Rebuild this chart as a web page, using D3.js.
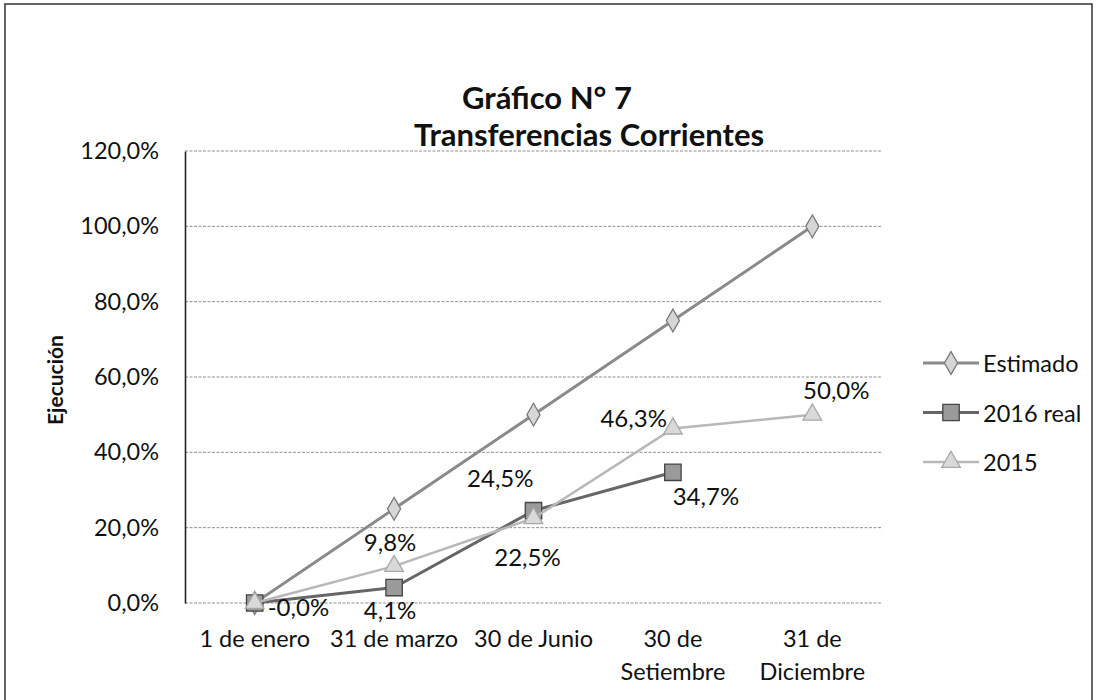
<!DOCTYPE html>
<html><head><meta charset="utf-8">
<script src="https://cdn.jsdelivr.net/npm/d3@7"></script>
<style>body{margin:0;background:#fff}svg{display:block}</style>
</head><body><svg id="c" width="1097" height="700"></svg>
<script>
// ---- data ----
const categories = ["1 de enero", "31 de marzo", "30 de Junio", "30 de\nSetiembre", "31 de\nDiciembre"];
const seriesNames = ["Estimado", "2016 real", "2015"];
const estimado = [0, 25, 50, 75, 100];
const real2016 = [0, 4.1, 24.5, 34.7];
const s2015 = [0, 9.8, 22.5, 46.3, 50.0];
const real2016Labels = ["-0,0%", "4,1%", "24,5%", "34,7%"];
const s2015Labels = [null, "9,8%", "22,5%", "46,3%", "50,0%"];
const yTicks = [0, 20, 40, 60, 80, 100, 120];
const titleLines = ["Gráfico N° 7", "Transferencias Corrientes"];
const yTitle = "Ejecución";

// ---- layout ----
const svg = d3.select("#c");
const font = "Lato, 'Open Sans', sans-serif";
const plot = {left: 185, right: 882, top: 151, bottom: 603};
const x = d3.scaleBand().domain(d3.range(categories.length)).range([plot.left, plot.right]);
const xc = i => x(i) + x.bandwidth() / 2;
const y = d3.scaleLinear().domain([0, 120]).range([plot.bottom, plot.top]);
const fmt = v => v.toFixed(1).replace(".", ",") + "%";

// frame
svg.append("rect").attr("x", 5).attr("y", 4).attr("width", 1087).attr("height", 710)
  .attr("fill", "none").attr("stroke", "#333").attr("stroke-width", 1.5);

// title
svg.append("text").attr("x", 547).attr("y", 109).attr("text-anchor", "middle")
  .attr("font-family", font).attr("font-weight", "bold").attr("font-size", 31).attr("fill", "#111")
  .text(titleLines[0]);
svg.append("text").attr("x", 589).attr("y", 146).attr("text-anchor", "middle")
  .attr("font-family", font).attr("font-weight", "bold").attr("font-size", 31).attr("fill", "#111")
  .text(titleLines[1]);

// gridlines
svg.append("g").selectAll("line").data(yTicks).join("line")
  .attr("x1", plot.left).attr("x2", plot.right)
  .attr("y1", d => y(d)).attr("y2", d => y(d))
  .attr("stroke", "#8f8f8f").attr("stroke-width", 1).attr("stroke-dasharray", "3,1.5");

// y axis
const yAxis = d3.axisLeft(y).tickValues(yTicks).tickFormat(fmt).tickSize(0).tickPadding(26);
const gy = svg.append("g").attr("transform", `translate(${plot.left},0)`).call(yAxis);
gy.select(".domain").attr("stroke", "#222").attr("stroke-width", 1.6);
gy.selectAll("text").attr("font-family", font).attr("font-size", 23.5).attr("fill", "#111");

svg.append("text").attr("transform", "translate(63,380) rotate(-90)").attr("text-anchor", "middle")
  .attr("font-family", font).attr("font-weight", "bold").attr("font-size", 21).attr("fill", "#111")
  .text(yTitle);

// x axis labels
const xAxis = d3.axisBottom(x).tickSize(0).tickFormat("");
const gx = svg.append("g").attr("transform", `translate(0,${plot.bottom})`).call(xAxis);
gx.select(".domain").remove();
gx.selectAll(".tick").each(function(d) {
  const lines = categories[d].split("\n");
  const t = d3.select(this).append("text").attr("fill", "#111").attr("font-family", font)
    .attr("font-size", 23.5).attr("text-anchor", "middle");
  lines.forEach((ln, k) => t.append("tspan").attr("x", 0).attr("y", 44 + k * 33).text(ln));
});

// series styles
const styles = [
  {data: estimado, stroke: "#8a8a8a", width: 3, marker: "diamond", fill: "#d6d6d6", mstroke: "#7a7a7a"},
  {data: real2016, stroke: "#666", width: 3, marker: "square", fill: "#9a9a9a", mstroke: "#444"},
  {data: s2015, stroke: "#b8b8b8", width: 2.5, marker: "triangle", fill: "#d9d9d9", mstroke: "#a8a8a8"}
];
const symType = {diamond: d3.symbolDiamond, square: d3.symbolSquare, triangle: d3.symbolTriangle};
const symSize = {diamond: 150, square: 270, triangle: 150};
const line = d3.line().x((d, i) => xc(i)).y(d => y(d));

styles.forEach(s => {
  const g = svg.append("g");
  g.append("path").datum(s.data).attr("d", line).attr("fill", "none")
    .attr("stroke", s.stroke).attr("stroke-width", s.width).attr("stroke-linejoin", "round");
  g.selectAll("path.m").data(s.data).join("path").attr("class", "m")
    .attr("transform", (d, i) => `translate(${xc(i)},${y(d)})`)
    .attr("d", d3.symbol().type(symType[s.marker]).size(symSize[s.marker]))
    .attr("fill", s.fill).attr("stroke", s.mstroke).attr("stroke-width", 1.3);
});

// data labels (positions relative to points)
const labelPos2016 = [{dx: 13, dy: 3, a: "start"}, {dx: -4, dy: 22, a: "middle"}, {dx: 0, dy: -33, a: "end"}, {dx: 33, dy: 23, a: "middle"}];
const labelPos2015 = [null, {dx: -4, dy: -25, a: "middle"}, {dx: -6, dy: 38, a: "middle"}, {dx: -6, dy: -11, a: "end"}, {dx: 24, dy: -25, a: "middle"}];
function drawLabels(values, labels, pos) {
  values.forEach((v, i) => {
    if (!labels[i]) return;
    svg.append("text").attr("x", xc(i) + pos[i].dx).attr("y", y(v) + pos[i].dy)
      .attr("dominant-baseline", "central").attr("text-anchor", pos[i].a)
      .attr("font-family", font).attr("font-size", 24).attr("fill", "#111").text(labels[i]);
  });
}
drawLabels(real2016, real2016Labels, labelPos2016);
drawLabels(s2015, s2015Labels, labelPos2015);

// legend
const lg = svg.append("g");
seriesNames.forEach((name, k) => {
  const s = styles[k];
  const ly = 363 + k * 49.5;
  lg.append("line").attr("x1", 923).attr("x2", 979).attr("y1", ly).attr("y2", ly)
    .attr("stroke", s.stroke).attr("stroke-width", s.width);
  lg.append("path").attr("transform", `translate(951,${ly})`)
    .attr("d", d3.symbol().type(symType[s.marker]).size(symSize[s.marker]))
    .attr("fill", s.fill).attr("stroke", s.mstroke).attr("stroke-width", 1.3);
  lg.append("text").attr("x", 983).attr("y", ly).attr("dominant-baseline", "central")
    .attr("font-family", font).attr("font-size", 23.5).attr("fill", "#111").text(name);
});
</script>
</body></html>
